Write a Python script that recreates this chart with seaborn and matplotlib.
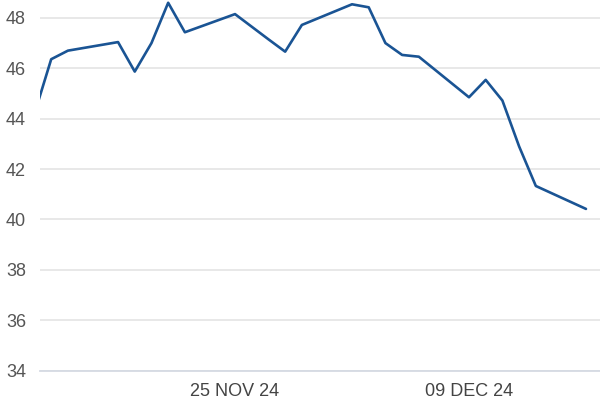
import pandas as pd
import matplotlib.pyplot as plt
import seaborn as sns

# dados
datas = ["2024-11-13", "2024-11-14", "2024-11-15", "2024-11-18", "2024-11-19",
         "2024-11-20", "2024-11-21", "2024-11-22", "2024-11-25", "2024-11-26",
         "2024-11-27", "2024-11-28", "2024-11-29", "2024-12-02", "2024-12-03",
         "2024-12-04", "2024-12-05", "2024-12-06", "2024-12-09", "2024-12-10",
         "2024-12-11", "2024-12-12", "2024-12-13", "2024-12-16"]
valores = [44.2, 46.36, 46.70, 47.04, 45.87,
           47.0, 48.6, 47.43, 48.15, 47.65,
           47.15, 46.66, 47.72, 48.54, 48.42,
           47.0, 46.53, 46.46, 44.85, 45.54,
           44.72, 42.9, 41.33, 40.42]
ticks_x = ["2024-11-25", "2024-12-09"]
rotulos_x = ["25 NOV 24", "09 DEC 24"]
ticks_y = [34, 36, 38, 40, 42, 44, 46, 48]

df = pd.DataFrame({"data": pd.to_datetime(datas), "valor": valores})

sns.set_style("white")
plt.rcParams["font.family"] = ["Liberation Sans", "DejaVu Sans"]

fig = plt.figure(figsize=(6, 4), dpi=100)
ax = fig.add_axes([40 / 600, 29.3 / 400, 560 / 600, 370.7 / 400])

sns.lineplot(data=df, x="data", y="valor", ax=ax, color="#1a5494",
             linewidth=1.9, zorder=3)

ref = pd.Timestamp("2024-11-25")
ax.set_xlim(ref - pd.Timedelta(days=11.67), ref + pd.Timedelta(days=21.84))
ax.set_ylim(34, 48.71)

ax.set_yticks(ticks_y)
ax.set_yticklabels([str(t) for t in ticks_y])
ax.set_xticks(pd.to_datetime(ticks_x))
ax.set_xticklabels(rotulos_x)

ax.grid(axis="y", color="#e6e6e6", linewidth=1.3)
ax.grid(axis="x", visible=False)
for lado in ["top", "right", "left"]:
    ax.spines[lado].set_visible(False)
ax.spines["bottom"].set_color("#d5dae3")
ax.spines["bottom"].set_linewidth(1.3)

ax.tick_params(axis="y", length=0, pad=10, labelsize=13, labelcolor="#555555")
ax.tick_params(axis="x", length=7, width=1, color="#d5dae3", pad=2,
               labelsize=13, labelcolor="#444444")
ax.set_xlabel("")
ax.set_ylabel("")

fig.savefig("out.png", dpi=100)
